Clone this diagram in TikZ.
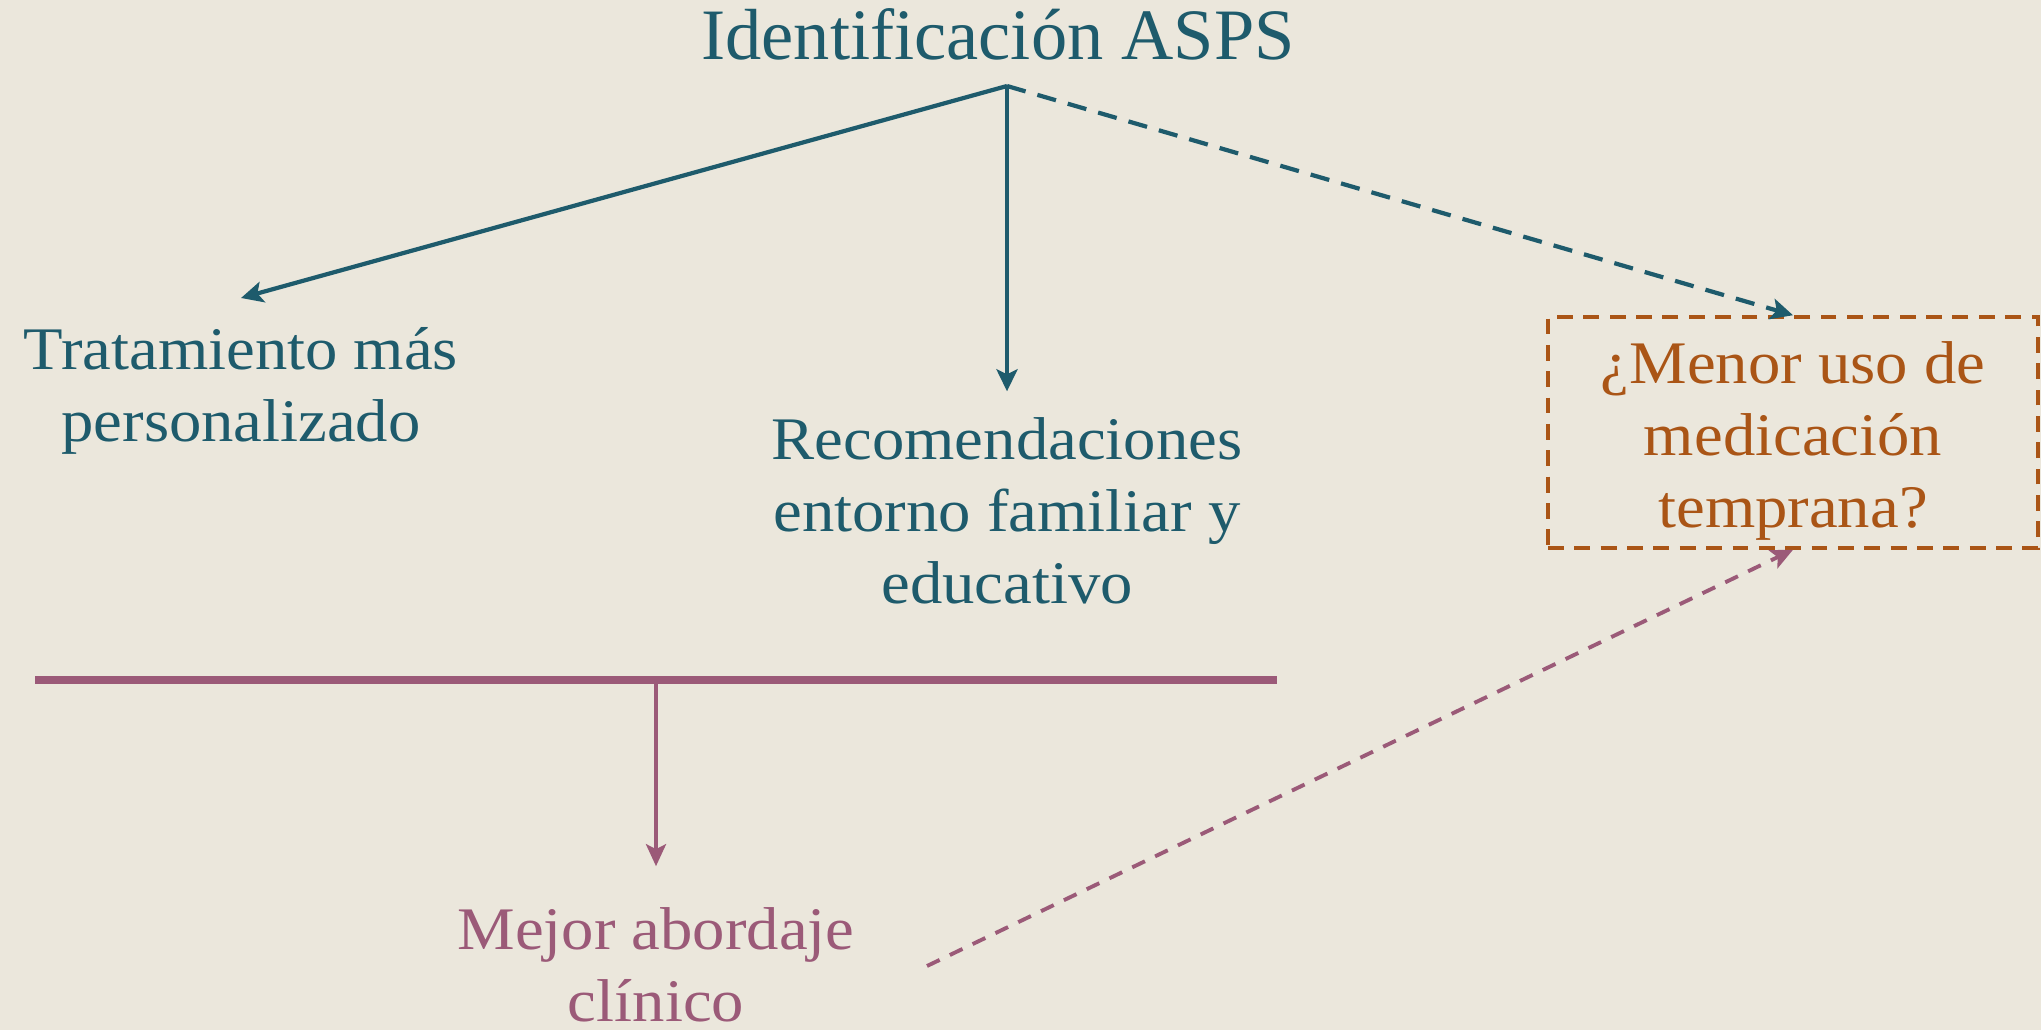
\documentclass[tikz,border=0pt]{standalone}
\usepackage{fontspec}
\setmainfont{Liberation Serif}
\newfontfamily\bodyfont{Liberation Serif}[FakeStretch=1.07]
\usetikzlibrary{arrows.meta}
\definecolor{bgcol}{HTML}{EBE7DC}
\definecolor{tealcol}{HTML}{1E5B6C}
\definecolor{mauvecol}{HTML}{9B5A78}
\definecolor{rustcol}{HTML}{AA5516}
\tikzstyle{title} = [font=\fontsize{20.6}{24}\selectfont, text=tealcol, inner sep=0pt]
\tikzstyle{txt} = [font=\bodyfont\fontsize{17.2}{20.4}\selectfont, align=center, inner sep=0pt]
\tikzstyle{question} = [txt, rectangle, minimum width=4.9cm, minimum height=2.31cm, draw=rustcol, line width=1pt, dash pattern=on 4.5pt off 3pt, text=rustcol]
\tikzstyle{arrow} = [line width=1.2pt, draw=tealcol, -{Stealth[length=2.2mm, width=2.1mm, inset=0.5mm]}]
\tikzstyle{maybe} = [arrow, dash pattern=on 5.5pt off 3.5pt]
\tikzstyle{bar} = [line width=2pt, draw=mauvecol]
\tikzstyle{marrow} = [line width=1.1pt, draw=mauvecol, -{Stealth[length=2.2mm, width=2mm, inset=0.5mm]}]
\tikzstyle{mmaybe} = [marrow, dash pattern=on 4pt off 3.2pt]

\begin{document}
\begin{tikzpicture}
	\fill [bgcol] (0,0) rectangle (20.41,10.30);
	\useasboundingbox (0,0) rectangle (20.41,10.30);
	\node (top) [title, anchor=base] at (9.98,9.70) {Identificación ASPS};
	\coordinate (root) at (10.07,9.44);
	\node (trat) [txt, text=tealcol] at (2.41,6.39) {Tratamiento más\\personalizado};
	\node (recom) [txt, text=tealcol] at (10.07,5.19) {Recomendaciones\\entorno familiar y\\educativo};
	\node (med) [question] at (17.93,5.975) {\rule{0pt}{5.9mm}¿Menor uso de\\medicación\\temprana?};
	\node (mejor) [txt, text=mauvecol] at (6.56,0.65) {Mejor abordaje\\clínico};
	\coordinate (barL) at (0.35,3.50);
	\coordinate (barR) at (12.77,3.50);
	\coordinate (mstart) at (9.27,0.64);
	\draw [arrow] (root) -- ([yshift=2.9mm]trat.north);
	\draw [arrow] (root) -- ([yshift=2.6mm]recom.north);
	\draw [maybe] (root) -- (med.north);
	\draw [bar] (barL) -- (barR);
	\draw [marrow] (mejor.north |- barL) -- ([yshift=4.1mm]mejor.north);
	\draw [mmaybe] (mstart) -- (med.south);
\end{tikzpicture}
\end{document}
